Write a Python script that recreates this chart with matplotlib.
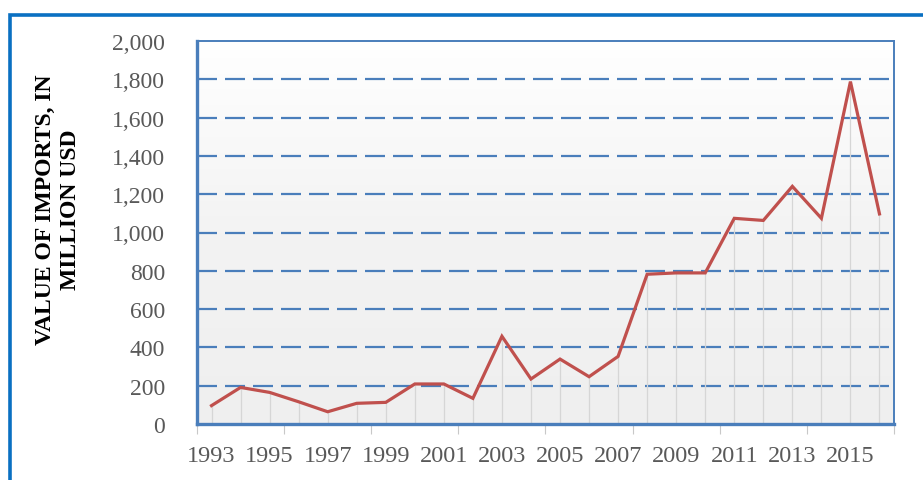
import numpy as np
import matplotlib
matplotlib.use("Agg")
import matplotlib.pyplot as plt
from matplotlib.colors import LinearSegmentedColormap
from matplotlib.patches import Rectangle

years = list(range(1993, 2017))
imports = [96, 191, 165, 116, 64, 108, 113, 209, 209, 134, 458, 235, 339, 247,
           353, 782, 789, 789, 1074, 1063, 1241, 1074, 1788, 1097]
y_ticks = [0, 200, 400, 600, 800, 1000, 1200, 1400, 1600, 1800, 2000]
y_label = "VALUE OF IMPORTS, IN\nMILLION USD"

blue = "#4A7EBB"
red = "#C0504D"
gray_txt = "#595959"
serif = ["Liberation Serif", "DejaVu Serif"]

fig = plt.figure(figsize=(9.23, 4.81), dpi=100)
fig.patch.set_facecolor("white")

# outer blue frame (runs off the right and bottom edge)
fig.patches.append(Rectangle((10 / 923, -0.1), 1.2, 1 - 16 / 481 + 0.1,
                             transform=fig.transFigure, fill=False,
                             edgecolor="#0A70C2", linewidth=2.6))

ax = fig.add_axes([197 / 923, 1 - 425 / 481, (894 - 197) / 923, (425 - 42) / 481])
x = np.arange(len(years))
ax.set_xlim(-0.5, len(years) - 0.5)
ax.set_ylim(0, 2000)

# background gradient: white at top, light gray at bottom
cmap = LinearSegmentedColormap.from_list("bg", ["#EFEFEF", "#F3F3F3", "#FFFFFF"])
grad = np.linspace(0, 1, 256).reshape(-1, 1)
ax.imshow(grad, extent=[-0.5, len(years) - 0.5, 0, 2000], origin="lower",
          aspect="auto", cmap=cmap, zorder=0)

# grid lines
for v in y_ticks[1:-1]:
    ax.axhline(v, color=blue, linewidth=1.6, dashes=(9, 3.6), zorder=1)

# drop lines
ax.vlines(x, 0, imports, color="#D6D6D6", linewidth=0.9, zorder=2)

ax.plot(x, imports, color=red, linewidth=2.3, solid_joinstyle="miter", zorder=4)

for side in ["top", "right"]:
    ax.spines[side].set_color(blue)
    ax.spines[side].set_linewidth(1.4)
for side in ["left", "bottom"]:
    ax.spines[side].set_color(blue)
    ax.spines[side].set_linewidth(2.4)
    ax.spines[side].set_zorder(5)

ax.set_yticks(y_ticks)
ax.set_yticklabels([f"{v:,}" for v in y_ticks], fontfamily=serif,
                   fontsize=17, color=gray_txt)
ax.tick_params(axis="y", length=0, pad=23)

ax.set_xticks(x[::2])
ax.set_xticklabels([str(yv) for yv in years[::2]], fontfamily=serif,
                   fontsize=17.5, color=gray_txt)
ax.tick_params(axis="x", which="major", length=0, pad=15)
ax.set_xticks(np.arange(-0.5, len(years), 3), minor=True)
ax.tick_params(axis="x", which="minor", length=7, width=0.8, color="#C8C8C8")

fig.text(58 / 923, 1 - 210 / 481, y_label, rotation=90, ha="center", va="center",
         multialignment="center", fontfamily=serif, fontsize=17,
         fontweight="bold", color="black", linespacing=1.25)

fig.savefig("out.png", dpi=100)
